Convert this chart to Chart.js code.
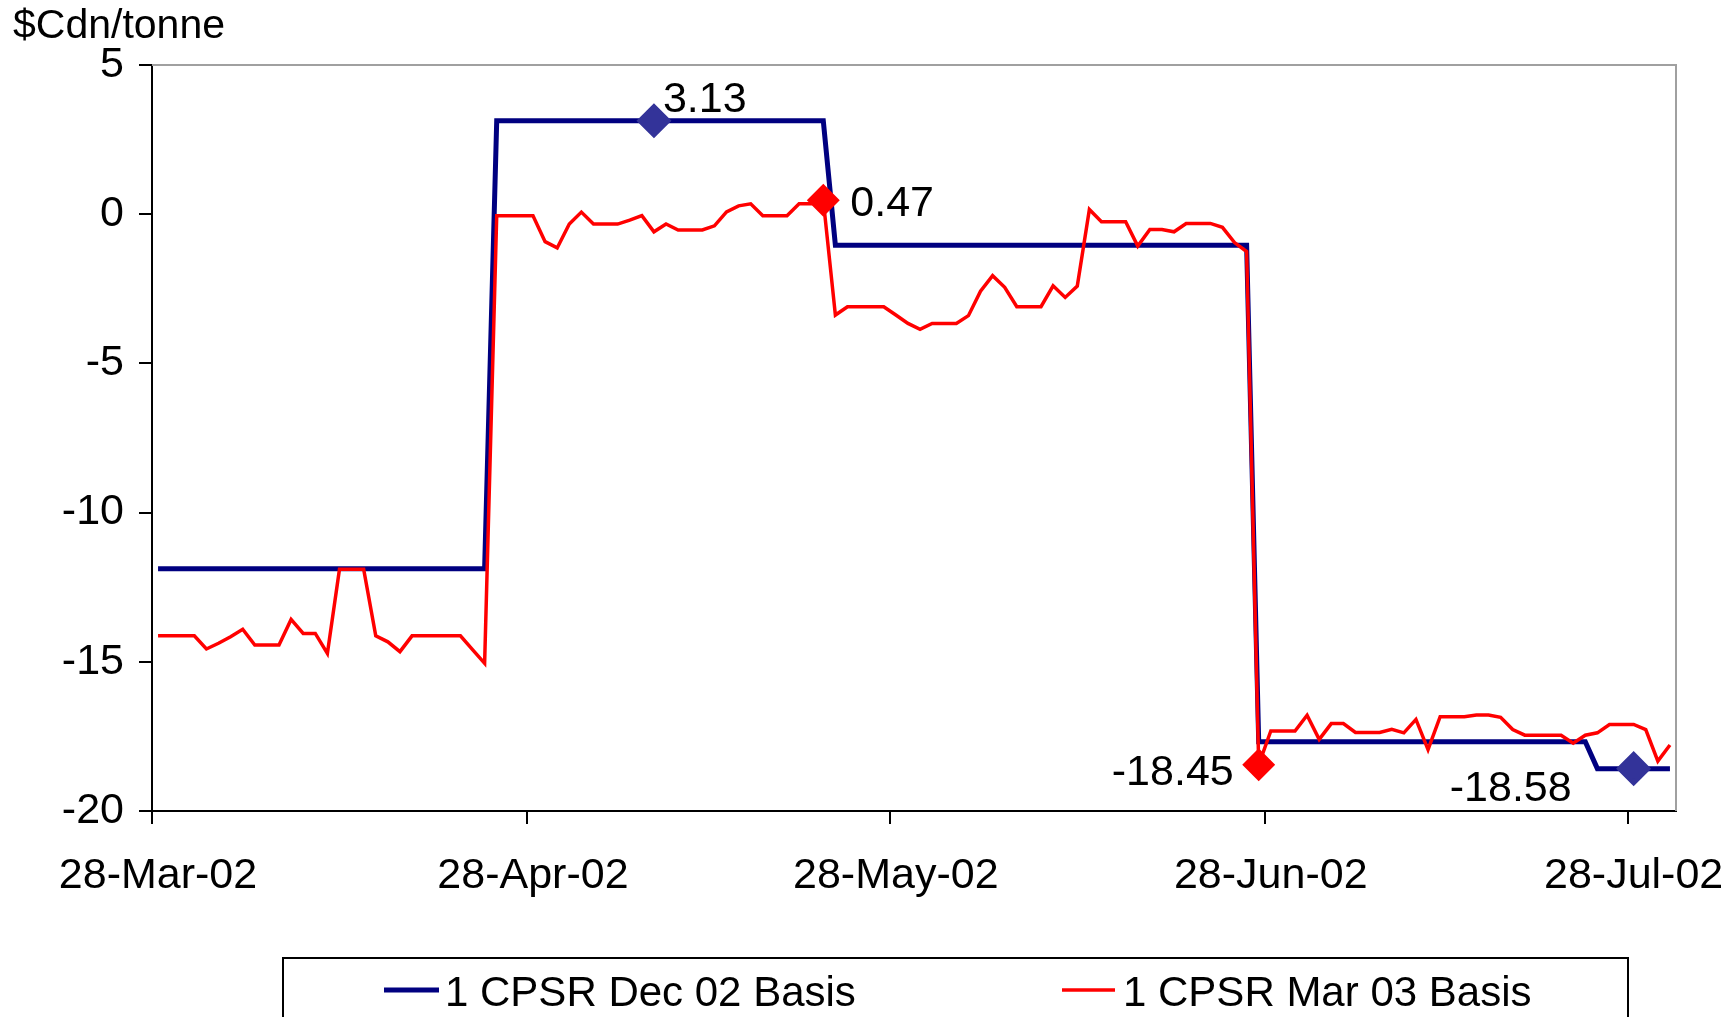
<!DOCTYPE html>
<html>
<head>
<meta charset="utf-8">
<script src="https://cdn.jsdelivr.net/npm/chart.js@4.4.1/dist/chart.umd.min.js"></script>
<style>
  html, body { margin: 0; padding: 0; background: #fff; }
</style>
</head>
<body>
<canvas id="myChart" width="1731" height="1017"></canvas>
<script>
// daily values from 28-Mar-02 to 31-Jul-02
const tickDays = [0, 31, 61, 92, 122];
const tickLabels = ['28-Mar-02', '28-Apr-02', '28-May-02', '28-Jun-02', '28-Jul-02'];

const dec02Basis = [
    -11.88, -11.88, -11.88, -11.88, -11.88, -11.88, -11.88, -11.88, -11.88, -11.88,
    -11.88, -11.88, -11.88, -11.88, -11.88, -11.88, -11.88, -11.88, -11.88, -11.88,
    -11.88, -11.88, -11.88, -11.88, -11.88, -11.88, -11.88, -11.88,
    3.13, 3.13, 3.13, 3.13, 3.13, 3.13, 3.13, 3.13, 3.13, 3.13,
    3.13, 3.13, 3.13, 3.13, 3.13, 3.13, 3.13, 3.13, 3.13, 3.13,
    3.13, 3.13, 3.13, 3.13, 3.13, 3.13, 3.13, 3.13,
    -1.04, -1.04, -1.04, -1.04, -1.04, -1.04, -1.04, -1.04, -1.04, -1.04,
    -1.04, -1.04, -1.04, -1.04, -1.04, -1.04, -1.04, -1.04, -1.04, -1.04,
    -1.04, -1.04, -1.04, -1.04, -1.04, -1.04, -1.04, -1.04, -1.04, -1.04,
    -1.04, -1.04, -1.04, -1.04, -1.04,
    -17.68, -17.68, -17.68, -17.68, -17.68, -17.68, -17.68, -17.68, -17.68, -17.68,
    -17.68, -17.68, -17.68, -17.68, -17.68, -17.68, -17.68, -17.68, -17.68, -17.68,
    -17.68, -17.68, -17.68, -17.68, -17.68, -17.68, -17.68, -17.68,
    -18.58, -18.58, -18.58, -18.58, -18.58, -18.58, -18.58
];
const mar03Basis = [
    -14.13, -14.13, -14.13, -14.13, -14.57, -14.38, -14.16, -13.91, -14.44, -14.44,
    -14.44, -13.58, -14.05, -14.05, -14.72, -11.90, -11.90, -11.90, -14.13, -14.33,
    -14.66, -14.13, -14.13, -14.13, -14.13, -14.13, -14.59, -15.05,
    -0.05, -0.05, -0.05, -0.05, -0.92, -1.13, -0.33, 0.07, -0.33, -0.33,
    -0.33, -0.20, -0.05, -0.59, -0.33, -0.53, -0.53, -0.53, -0.39, 0.08,
    0.28, 0.35, -0.05, -0.05, -0.05, 0.35, 0.35, 0.47,
    -3.38, -3.10, -3.10, -3.10, -3.10, -3.38, -3.66, -3.86, -3.66, -3.66,
    -3.66, -3.40, -2.58, -2.06, -2.45, -3.10, -3.10, -3.10, -2.40, -2.79,
    -2.41, 0.16, -0.25, -0.25, -0.25, -1.07, -0.51, -0.51, -0.59, -0.31,
    -0.31, -0.31, -0.44, -0.95, -1.25,
    -18.45, -17.32, -17.32, -17.32, -16.79, -17.60, -17.07, -17.07, -17.37, -17.37,
    -17.37, -17.26, -17.38, -16.93, -17.94, -16.84, -16.84, -16.84, -16.78, -16.78,
    -16.86, -17.27, -17.46, -17.46, -17.46, -17.46, -17.73, -17.46,
    -17.38, -17.10, -17.10, -17.10, -17.27, -18.33, -17.79
];
// points that get a diamond and a value label
const dec02Markers = [41, 122];
const mar03Markers = [55, 91];

const FONT = '"Liberation Sans", Arial, sans-serif';

function toPoints(values) {
    // each day sits in the middle of its day slot
    return values.map((v, i) => ({ x: i + 0.5, y: v }));
}

const data = {
    datasets: [{
        label: '1 CPSR Dec 02 Basis',
        data: toPoints(dec02Basis),
        borderColor: '#000080',
        borderWidth: 5,
        markers: dec02Markers,
        pointBackgroundColor: '#333399',
        pointBorderColor: '#333399',
        order: 2
    }, {
        label: '1 CPSR Mar 03 Basis',
        data: toPoints(mar03Basis),
        borderColor: '#ff0000',
        borderWidth: 3.5,
        markers: mar03Markers,
        pointBackgroundColor: '#ff0000',
        pointBorderColor: '#ff0000',
        order: 1
    }]
};

// label placement next to each marker (pixels)
const labelPlace = {
    '0-41': { dx: 9, dy: -21, align: 'left' },
    '0-122': { dx: -62, dy: 21, align: 'right' },
    '1-55': { dx: 27, dy: 4, align: 'left' },
    '1-91': { dx: -25, dy: 8, align: 'right' }
};

const extras = {
    id: 'extras',
    afterDraw(chart) {
        const ctx = chart.ctx;
        const a = chart.chartArea;
        ctx.save();
        // plot area frame (top and right)
        ctx.strokeStyle = '#a0a0a0';
        ctx.lineWidth = 2;
        ctx.beginPath();
        ctx.moveTo(a.left, a.top);
        ctx.lineTo(a.right, a.top);
        ctx.lineTo(a.right, a.bottom);
        ctx.stroke();

        ctx.fillStyle = '#000';
        ctx.textBaseline = 'middle';
        ctx.font = '41px ' + FONT;
        ctx.textAlign = 'left';
        ctx.fillText('$Cdn/tonne', 13, 27);

        // value labels
        ctx.font = '43px ' + FONT;
        chart.data.datasets.forEach((ds, d) => {
            const meta = chart.getDatasetMeta(d);
            ds.markers.forEach(i => {
                const el = meta.data[i];
                const p = labelPlace[d + '-' + i];
                ctx.textAlign = p.align;
                ctx.fillText(ds.data[i].y.toFixed(2), el.x + p.dx, el.y + p.dy);
            });
        });

        // legend box
        ctx.strokeStyle = '#000';
        ctx.lineWidth = 2;
        ctx.strokeRect(283, 958, 1345, 120);
        const items = [{ x0: 384, x1: 439, tx: 445 }, { x0: 1062, x1: 1115, tx: 1123 }];
        ctx.font = '42px ' + FONT;
        ctx.textAlign = 'left';
        chart.data.datasets.forEach((ds, d) => {
            const it = items[d];
            ctx.strokeStyle = ds.borderColor;
            ctx.lineWidth = ds.borderWidth;
            ctx.beginPath();
            ctx.moveTo(it.x0, 990);
            ctx.lineTo(it.x1, 990);
            ctx.stroke();
            ctx.fillText(ds.label, it.tx, 994);
        });
        ctx.restore();
    }
};

const config = {
    type: 'line',
    data: data,
    options: {
        responsive: false,
        devicePixelRatio: 1,
        animation: false,
        events: [],
        layout: { padding: { top: 65, right: 55, left: 0, bottom: 0 } },
        elements: {
            line: { tension: 0, fill: false, borderJoinStyle: 'miter' },
            point: {
                pointStyle: 'rectRot',
                borderWidth: 1,
                radius: ctx => (ctx.dataset.markers.includes(ctx.dataIndex) ? 14 : 0)
            }
        },
        plugins: {
            legend: { display: false },
            tooltip: { enabled: false }
        },
        scales: {
            x: {
                type: 'linear',
                min: 0,
                max: 126,
                afterBuildTicks: s => { s.ticks = tickDays.map(v => ({ value: v })); },
                afterFit: s => { s.height = 206; s.paddingLeft = 0; s.paddingRight = 0; },
                grid: { drawOnChartArea: false, tickLength: 13, color: '#000', lineWidth: 2 },
                border: { color: '#000', width: 2 },
                ticks: {
                    callback: (v, i) => tickLabels[i],
                    labelOffset: 6,
                    padding: 26,
                    autoSkip: false,
                    maxRotation: 0,
                    color: '#000',
                    font: { family: FONT, size: 43 }
                }
            },
            y: {
                min: -20,
                max: 5,
                afterFit: s => { s.width = 152; s.paddingTop = 0; s.paddingBottom = 0; },
                grid: { drawOnChartArea: false, tickLength: 13, color: '#000', lineWidth: 2 },
                border: { color: '#000', width: 2 },
                ticks: {
                    stepSize: 5,
                    padding: 15,
                    color: '#000',
                    font: { family: FONT, size: 43 }
                }
            }
        }
    },
    plugins: [extras]
};

const chart = new Chart(document.getElementById('myChart'), config);
</script>
</body>
</html>
